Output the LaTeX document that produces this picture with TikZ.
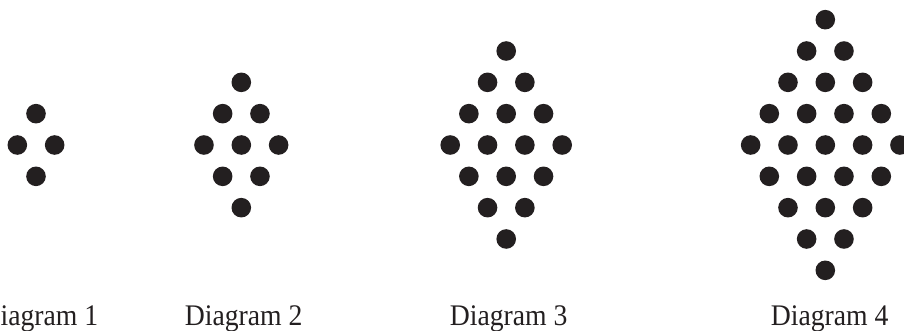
\documentclass[tikz,border=0pt]{standalone}
\usepackage{fontspec}
\setmainfont{Liberation Serif}
\definecolor{dotc}{HTML}{231F20}
\begin{document}
\begin{tikzpicture}[x=1pt,y=-1pt,
  dot/.style={circle,fill=dotc,draw=none,minimum size=19.6pt,inner sep=0pt},
  lbl/.style={anchor=base west,inner sep=0pt,text=dotc,font=\fontsize{27.7}{30}\selectfont}]
\clip (0,0) rectangle (904,331);
\useasboundingbox (0,0) rectangle (904,331);
\foreach \n/\cx in {1/36,2/241.3,3/506.2,4/825.3}{
  \foreach \k in {-\n,...,\n}{
    \pgfmathtruncatemacro{\c}{\n+1-abs(\k)}
    \foreach \j in {1,...,\c}{
      \node[dot] (d\n-\k-\j) at ({\cx+(\j-(\c+1)/2)*37.33},{145+\k*31.33}) {};
    }
  }
}
\node[lbl] (l1) at (-19.6,325.5) {\scalebox{1}[1.08]{Diagram 1}};
\node[lbl] (l2) at (184.6,325.5) {\scalebox{1}[1.08]{Diagram 2}};
\node[lbl] (l3) at (449.6,325.5) {\scalebox{1}[1.08]{Diagram 3}};
\node[lbl] (l4) at (770.6,325.5) {\scalebox{1}[1.08]{Diagram 4}};
\end{tikzpicture}
\end{document}
